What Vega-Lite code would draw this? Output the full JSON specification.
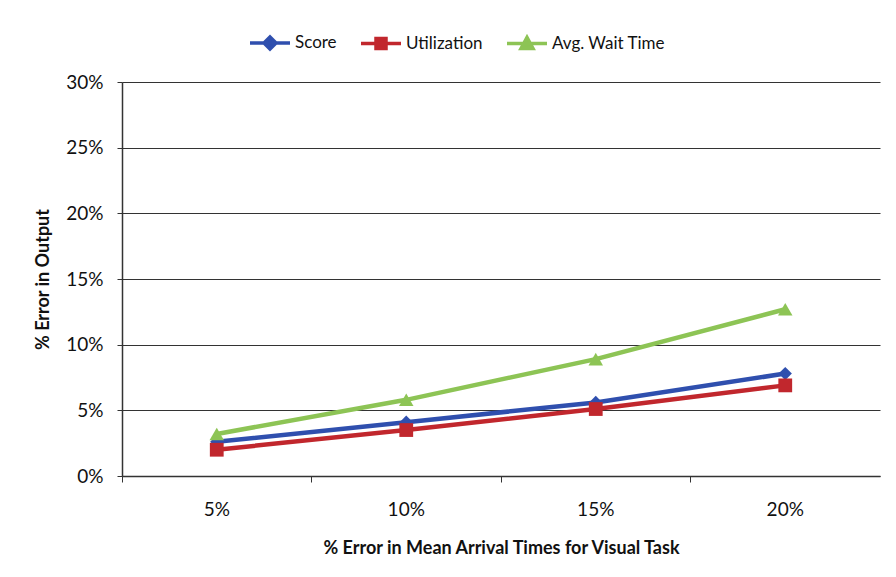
{
  "$schema": "https://vega.github.io/schema/vega-lite/v6.json",
  "width": 758,
  "height": 394,
  "autosize": {"type": "none"},
  "padding": {"left": 122, "top": 82, "right": 16, "bottom": 101},
  "background": "white",
  "config": {
    "font": "Lato",
    "view": {"stroke": null},
    "axis": {"labelFont": "Lato", "titleFont": "Lato", "labelColor": "#111", "titleColor": "#111"}
  },
  "data": {
    "values": [
      {"x": "5%", "series": "Score", "value": 0.026},
      {"x": "10%", "series": "Score", "value": 0.041},
      {"x": "15%", "series": "Score", "value": 0.056},
      {"x": "20%", "series": "Score", "value": 0.078},
      {"x": "5%", "series": "Utilization", "value": 0.020},
      {"x": "10%", "series": "Utilization", "value": 0.035},
      {"x": "15%", "series": "Utilization", "value": 0.051},
      {"x": "20%", "series": "Utilization", "value": 0.069},
      {"x": "5%", "series": "Avg. Wait Time", "value": 0.032},
      {"x": "10%", "series": "Avg. Wait Time", "value": 0.058},
      {"x": "15%", "series": "Avg. Wait Time", "value": 0.089},
      {"x": "20%", "series": "Avg. Wait Time", "value": 0.127}
    ]
  },
  "resolve": {"axis": {"x": "independent"}},
  "layer": [
    {
      "mark": {"type": "line", "strokeWidth": 4.5},
      "encoding": {
        "x": {
          "field": "x", "type": "ordinal", "sort": ["5%", "10%", "15%", "20%"],
          "scale": {"type": "band", "paddingInner": 0, "paddingOuter": 0},
          "axis": {"orient": "bottom", "bandPosition": 0, "labels": false, "title": null, "ticks": true, "tickSize": 6, "tickColor": "#333", "domainColor": "#333", "domainWidth": 1.5, "grid": false}
        },
        "y": {
          "field": "value", "type": "quantitative",
          "scale": {"domain": [0, 0.3], "nice": false},
          "axis": {
            "values": [0, 0.05, 0.1, 0.15, 0.2, 0.25, 0.3], "format": ".0%",
            "title": "% Error in Output", "titleFontSize": 18, "titleFontWeight": "bold", "titlePadding": 13,
            "labelFontSize": 19, "labelPadding": 14, "tickSize": 5, "tickColor": "#333",
            "domainColor": "#333", "domainWidth": 1.5, "grid": true, "gridColor": "#333", "gridWidth": 1.2
          }
        },
        "color": {
          "field": "series", "type": "nominal",
          "scale": {"domain": ["Score", "Utilization", "Avg. Wait Time"], "range": ["#2f4fae", "#c1272d", "#8dc455"]},
          "legend": {
            "title": null, "orient": "none", "legendX": 126, "legendY": -61, "direction": "horizontal",
            "labelFont": "Lato", "labelFontSize": 17, "labelColor": "#111", "labelOffset": 3, "columnPadding": 17,
            "symbolSize": 1600, "symbolStrokeWidth": 3.5,
            "encode": {
              "symbols": {
                "update": {
                  "shape": {"signal": "datum.value === 'Score' ? 'M-1,0H1M-0.3,0L0,-0.3L0.3,0L0,0.3Z' : datum.value === 'Utilization' ? 'M-1,0H1M-0.25,-0.25H0.25V0.25H-0.25Z' : 'M-1,0H1M-0.3,0.25L0,-0.3L0.3,0.25Z'"},
                  "stroke": {"scale": "color", "field": "value"},
                  "fill": {"scale": "color", "field": "value"},
                  "strokeWidth": {"value": 3.5},
                  "size": {"value": 1600},
                  "opacity": {"value": 1}
                }
              }
            }
          }
        }
      }
    },
    {
      "transform": [{"filter": "datum.series === 'Score'"}],
      "mark": {"type": "point", "filled": true, "opacity": 1, "shape": "diamond", "size": 175},
      "encoding": {
        "x": {
          "field": "x", "type": "ordinal", "sort": ["5%", "10%", "15%", "20%"],
          "axis": {"orient": "bottom", "ticks": false, "domain": false, "grid": false, "labelAngle": 0, "labelFontSize": 19, "labelPadding": 24,
            "title": "% Error in Mean Arrival Times for Visual Task", "titleFontSize": 18, "titleFontWeight": "bold", "titlePadding": 20}
        },
        "y": {"field": "value", "type": "quantitative"},
        "color": {"field": "series", "type": "nominal"}
      }
    },
    {
      "transform": [{"filter": "datum.series === 'Utilization'"}],
      "mark": {"type": "point", "filled": true, "opacity": 1, "shape": "square", "size": 190},
      "encoding": {
        "x": {"field": "x", "type": "ordinal", "sort": ["5%", "10%", "15%", "20%"], "axis": null},
        "y": {"field": "value", "type": "quantitative"},
        "color": {"field": "series", "type": "nominal"}
      }
    },
    {
      "transform": [{"filter": "datum.series === 'Avg. Wait Time'"}],
      "mark": {"type": "point", "filled": true, "opacity": 1, "shape": "triangle-up", "size": 210},
      "encoding": {
        "x": {"field": "x", "type": "ordinal", "sort": ["5%", "10%", "15%", "20%"], "axis": null},
        "y": {"field": "value", "type": "quantitative"},
        "color": {"field": "series", "type": "nominal"}
      }
    }
  ]
}
